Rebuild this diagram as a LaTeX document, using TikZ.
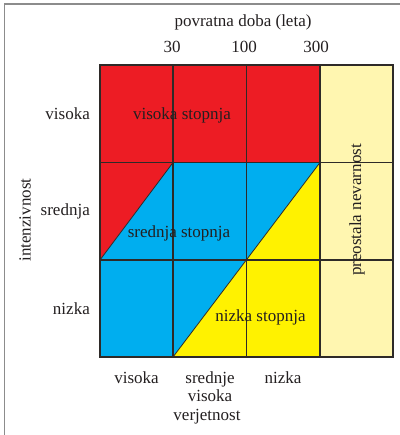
\documentclass[tikz,border=0pt]{standalone}
\usepackage{fontspec}
\setmainfont{Liberation Serif}
\definecolor{rred}{HTML}{ED1C24}
\definecolor{rblue}{HTML}{00AEEF}
\definecolor{ryellow}{HTML}{FFF200}
\definecolor{rpale}{HTML}{FFF6B0}
\definecolor{rline}{HTML}{2E2A28}
\definecolor{rtext}{HTML}{231F20}
\definecolor{rframe}{HTML}{8C8C8C}
\begin{document}
\begin{tikzpicture}[x=1pt,y=-1pt,
  lbl/.style={text=rtext,font=\fontsize{17}{19}\selectfont,inner sep=0pt},
  gridline/.style={draw=rline,line width=1.1pt},
  diag/.style={draw=rline,line width=0.8pt}]
\useasboundingbox (0,0) rectangle (399,435);
% frame
\draw[rframe,line width=1.5pt] (4.5,436) -- (4.5,4) -- (400,4);
% coordinates
\coordinate (A) at (100,65);
\coordinate (B) at (393,357);
% fills
\fill[rpale] (320,65) rectangle (393,357);
\fill[rred] (100,65) rectangle (320,162.5);
\fill[rred] (100,162.5) -- (173,162.5) -- (100,260) -- cycle;
\fill[rblue] (100,260) -- (173,162.5) -- (320,162.5) -- (173,357) -- (100,357) -- cycle;
\fill[ryellow] (320,162.5) -- (320,357) -- (173,357) -- cycle;
% diagonals
\draw[diag] (100,260) -- (173,162.5);
\draw[diag] (320,162.5) -- (173,357);
% grid
\foreach \x in {173,246.5,320} \draw[gridline] (\x,65) -- (\x,357);
\foreach \y in {162.5,260} \draw[gridline] (100,\y) -- (393,\y);
\draw[gridline] (A) rectangle (B);
% top labels
\node[lbl] (title) at (243,22) {povratna doba (leta)};
\node[lbl] (t30) at (172,47) {30};
\node[lbl] (t100) at (244,47) {100};
\node[lbl] (t300) at (316,47) {300};
% row labels
\node[lbl,anchor=east] (rv) at (90,113.5) {visoka};
\node[lbl,anchor=east] (rs) at (90,211) {srednja};
\node[lbl,anchor=east] (rn) at (90,309) {nizka};
\node[lbl,rotate=90] (intz) at (25,220) {intenzivnost};
% region labels
\node[lbl] (vs) at (182,115) {visoka stopnja};
\node[lbl] (ss) at (179,233) {srednja stopnja};
\node[lbl] (ns) at (260.5,317) {nizka stopnja};
\node[lbl,rotate=90] (pn) at (357,210) {preostala nevarnost};
% bottom labels
\node[lbl] (bv) at (136.5,378) {visoka};
\node[lbl,align=center,font=\fontsize{17}{18}\selectfont] (bs) at (210,386.5) {srednje\\visoka};
\node[lbl] (bn) at (283,378) {nizka};
\node[lbl] (verj) at (207,417) {verjetnost};
\end{tikzpicture}
\end{document}
